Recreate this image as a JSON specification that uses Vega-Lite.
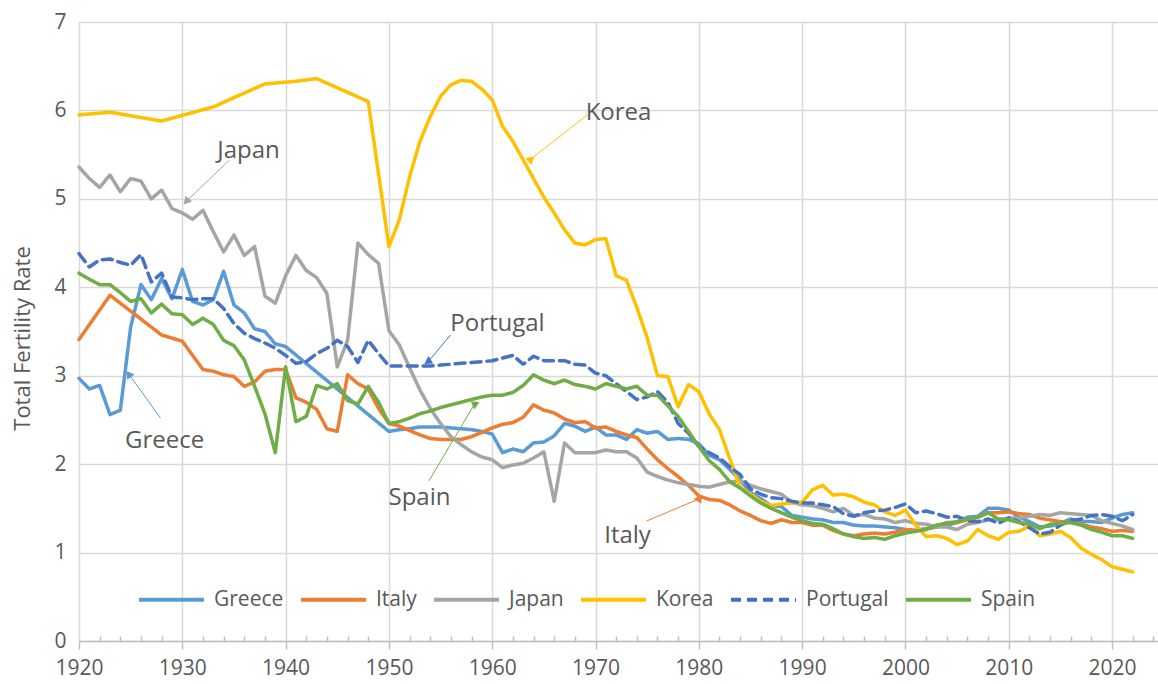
{
  "$schema": "https://vega.github.io/schema/vega-lite/v6.json",
  "width": 1079,
  "height": 619,
  "autosize": {"type": "none"},
  "padding": {"left": 79, "top": 22, "right": 0, "bottom": 43},
  "background": "white",
  "config": {"view": {"stroke": null}, "font": "Open Sans"},
  "resolve": {"axis": {"x": "independent", "y": "independent"}},
  "datasets": {
    "tfr": [
      {"year":1920,"Greece":2.97,"Italy":3.41,"Japan":5.36,"Korea":5.95,"Portugal":4.38,"Spain":4.16},
      {"year":1921,"Greece":2.85,"Japan":5.23,"Portugal":4.23,"Spain":4.09},
      {"year":1922,"Greece":2.89,"Japan":5.13,"Portugal":4.31,"Spain":4.03},
      {"year":1923,"Greece":2.56,"Italy":3.91,"Japan":5.27,"Korea":5.98,"Portugal":4.32,"Spain":4.03},
      {"year":1924,"Greece":2.61,"Japan":5.08,"Portugal":4.28,"Spain":3.94},
      {"year":1925,"Greece":3.55,"Japan":5.23,"Portugal":4.25,"Spain":3.84},
      {"year":1926,"Greece":4.03,"Japan":5.20,"Portugal":4.37,"Spain":3.87},
      {"year":1927,"Greece":3.86,"Japan":5.00,"Portugal":4.06,"Spain":3.71},
      {"year":1928,"Greece":4.10,"Italy":3.46,"Japan":5.10,"Korea":5.88,"Portugal":4.16,"Spain":3.81},
      {"year":1929,"Greece":3.87,"Japan":4.89,"Portugal":3.89,"Spain":3.70},
      {"year":1930,"Greece":4.20,"Italy":3.39,"Japan":4.84,"Portugal":3.88,"Spain":3.69},
      {"year":1931,"Greece":3.84,"Japan":4.77,"Portugal":3.86,"Spain":3.58},
      {"year":1932,"Greece":3.80,"Italy":3.07,"Japan":4.87,"Portugal":3.87,"Spain":3.65},
      {"year":1933,"Greece":3.86,"Italy":3.05,"Japan":4.63,"Korea":6.04,"Portugal":3.87,"Spain":3.58},
      {"year":1934,"Greece":4.18,"Italy":3.01,"Japan":4.40,"Portugal":3.76,"Spain":3.40},
      {"year":1935,"Greece":3.80,"Italy":2.99,"Japan":4.59,"Portugal":3.59,"Spain":3.34},
      {"year":1936,"Greece":3.71,"Italy":2.88,"Japan":4.36,"Portugal":3.48,"Spain":3.18},
      {"year":1937,"Greece":3.53,"Italy":2.93,"Japan":4.46,"Portugal":3.42,"Spain":2.88},
      {"year":1938,"Greece":3.50,"Italy":3.05,"Japan":3.90,"Korea":6.30,"Portugal":3.37,"Spain":2.57},
      {"year":1939,"Greece":3.36,"Italy":3.07,"Japan":3.82,"Portugal":3.31,"Spain":2.13},
      {"year":1940,"Greece":3.33,"Italy":3.07,"Japan":4.13,"Portugal":3.23,"Spain":3.10},
      {"year":1941,"Italy":2.75,"Japan":4.36,"Korea":6.33,"Portugal":3.14,"Spain":2.48},
      {"year":1942,"Italy":2.70,"Japan":4.19,"Portugal":3.16,"Spain":2.54},
      {"year":1943,"Italy":2.62,"Japan":4.11,"Korea":6.36,"Portugal":3.25,"Spain":2.89},
      {"year":1944,"Italy":2.40,"Japan":3.93,"Portugal":3.31,"Spain":2.85},
      {"year":1945,"Italy":2.37,"Japan":3.10,"Portugal":3.40,"Spain":2.91},
      {"year":1946,"Italy":3.01,"Japan":3.40,"Portugal":3.33,"Spain":2.72},
      {"year":1947,"Italy":2.91,"Japan":4.50,"Portugal":3.15,"Spain":2.68},
      {"year":1948,"Italy":2.85,"Japan":4.37,"Korea":6.10,"Portugal":3.40,"Spain":2.88},
      {"year":1949,"Italy":2.63,"Japan":4.27,"Portugal":3.25,"Spain":2.70},
      {"year":1950,"Greece":2.37,"Italy":2.46,"Japan":3.51,"Korea":4.46,"Portugal":3.11,"Spain":2.46},
      {"year":1951,"Greece":2.39,"Italy":2.43,"Japan":3.35,"Korea":4.76,"Portugal":3.11,"Spain":2.48},
      {"year":1952,"Greece":2.40,"Italy":2.38,"Japan":3.09,"Korea":5.25,"Portugal":3.11,"Spain":2.52},
      {"year":1953,"Greece":2.42,"Italy":2.33,"Japan":2.84,"Korea":5.65,"Portugal":3.11,"Spain":2.57},
      {"year":1954,"Greece":2.42,"Italy":2.29,"Japan":2.63,"Korea":5.93,"Portugal":3.11,"Spain":2.60},
      {"year":1955,"Greece":2.42,"Italy":2.28,"Japan":2.46,"Korea":6.16,"Portugal":3.12,"Spain":2.64},
      {"year":1956,"Greece":2.41,"Italy":2.28,"Japan":2.31,"Korea":6.29,"Portugal":3.13,"Spain":2.67},
      {"year":1957,"Greece":2.40,"Italy":2.28,"Japan":2.22,"Korea":6.34,"Portugal":3.14,"Spain":2.70},
      {"year":1958,"Greece":2.39,"Italy":2.31,"Japan":2.14,"Korea":6.33,"Portugal":3.15,"Spain":2.73},
      {"year":1959,"Greece":2.37,"Italy":2.36,"Japan":2.08,"Korea":6.24,"Portugal":3.16,"Spain":2.76},
      {"year":1960,"Greece":2.34,"Italy":2.41,"Japan":2.05,"Korea":6.12,"Portugal":3.17,"Spain":2.78},
      {"year":1961,"Greece":2.13,"Italy":2.45,"Japan":1.96,"Korea":5.82,"Portugal":3.20,"Spain":2.78},
      {"year":1962,"Greece":2.17,"Italy":2.47,"Japan":1.99,"Korea":5.65,"Portugal":3.23,"Spain":2.81},
      {"year":1963,"Greece":2.14,"Italy":2.53,"Japan":2.01,"Korea":5.44,"Portugal":3.13,"Spain":2.89},
      {"year":1964,"Greece":2.24,"Italy":2.67,"Japan":2.07,"Korea":5.23,"Portugal":3.22,"Spain":3.01},
      {"year":1965,"Greece":2.25,"Italy":2.61,"Japan":2.14,"Korea":5.02,"Portugal":3.17,"Spain":2.95},
      {"year":1966,"Greece":2.32,"Italy":2.58,"Japan":1.58,"Korea":4.84,"Portugal":3.17,"Spain":2.91},
      {"year":1967,"Greece":2.46,"Italy":2.51,"Japan":2.24,"Korea":4.65,"Portugal":3.17,"Spain":2.95},
      {"year":1968,"Greece":2.43,"Italy":2.47,"Japan":2.13,"Korea":4.50,"Portugal":3.13,"Spain":2.90},
      {"year":1969,"Greece":2.37,"Italy":2.48,"Japan":2.13,"Korea":4.48,"Portugal":3.12,"Spain":2.88},
      {"year":1970,"Greece":2.42,"Italy":2.41,"Japan":2.13,"Korea":4.54,"Portugal":3.03,"Spain":2.85},
      {"year":1971,"Greece":2.33,"Italy":2.42,"Japan":2.16,"Korea":4.55,"Portugal":3.00,"Spain":2.91},
      {"year":1972,"Greece":2.33,"Italy":2.37,"Japan":2.14,"Korea":4.13,"Portugal":2.91,"Spain":2.88},
      {"year":1973,"Greece":2.28,"Italy":2.33,"Japan":2.14,"Korea":4.08,"Portugal":2.82,"Spain":2.85},
      {"year":1974,"Greece":2.39,"Italy":2.30,"Japan":2.07,"Korea":3.77,"Portugal":2.73,"Spain":2.88},
      {"year":1975,"Greece":2.35,"Italy":2.17,"Japan":1.91,"Korea":3.43,"Portugal":2.76,"Spain":2.78},
      {"year":1976,"Greece":2.37,"Italy":2.05,"Japan":1.86,"Korea":3.00,"Portugal":2.82,"Spain":2.78},
      {"year":1977,"Greece":2.28,"Italy":1.95,"Japan":1.82,"Korea":2.99,"Portugal":2.70,"Spain":2.66},
      {"year":1978,"Greece":2.29,"Italy":1.86,"Japan":1.79,"Korea":2.65,"Portugal":2.46,"Spain":2.54},
      {"year":1979,"Greece":2.28,"Italy":1.76,"Japan":1.77,"Korea":2.90,"Portugal":2.35,"Spain":2.37},
      {"year":1980,"Greece":2.23,"Italy":1.64,"Japan":1.75,"Korea":2.82,"Portugal":2.20,"Spain":2.20},
      {"year":1981,"Greece":2.10,"Italy":1.60,"Japan":1.74,"Korea":2.57,"Portugal":2.13,"Spain":2.04},
      {"year":1982,"Greece":2.05,"Italy":1.59,"Japan":1.77,"Korea":2.39,"Portugal":2.07,"Spain":1.94},
      {"year":1983,"Greece":1.94,"Italy":1.54,"Japan":1.80,"Korea":2.06,"Portugal":1.97,"Spain":1.80},
      {"year":1984,"Greece":1.82,"Italy":1.47,"Japan":1.81,"Korea":1.74,"Portugal":1.88,"Spain":1.73},
      {"year":1985,"Greece":1.68,"Italy":1.42,"Japan":1.76,"Korea":1.66,"Portugal":1.72,"Spain":1.64},
      {"year":1986,"Greece":1.61,"Italy":1.36,"Japan":1.72,"Korea":1.58,"Portugal":1.66,"Spain":1.56},
      {"year":1987,"Greece":1.53,"Italy":1.33,"Japan":1.69,"Korea":1.53,"Portugal":1.62,"Spain":1.50},
      {"year":1988,"Greece":1.52,"Italy":1.37,"Japan":1.66,"Korea":1.55,"Portugal":1.61,"Spain":1.45},
      {"year":1989,"Greece":1.42,"Italy":1.34,"Japan":1.57,"Korea":1.56,"Portugal":1.58,"Spain":1.40},
      {"year":1990,"Greece":1.40,"Italy":1.34,"Japan":1.54,"Korea":1.57,"Portugal":1.56,"Spain":1.36},
      {"year":1991,"Greece":1.38,"Italy":1.31,"Japan":1.53,"Korea":1.71,"Portugal":1.56,"Spain":1.33},
      {"year":1992,"Greece":1.37,"Italy":1.31,"Japan":1.50,"Korea":1.76,"Portugal":1.54,"Spain":1.32},
      {"year":1993,"Greece":1.34,"Italy":1.25,"Japan":1.46,"Korea":1.65,"Portugal":1.52,"Spain":1.27},
      {"year":1994,"Greece":1.34,"Italy":1.21,"Japan":1.50,"Korea":1.66,"Portugal":1.44,"Spain":1.21},
      {"year":1995,"Greece":1.31,"Italy":1.19,"Japan":1.42,"Korea":1.63,"Portugal":1.41,"Spain":1.18},
      {"year":1996,"Greece":1.30,"Italy":1.21,"Japan":1.43,"Korea":1.57,"Portugal":1.45,"Spain":1.16},
      {"year":1997,"Greece":1.30,"Italy":1.22,"Japan":1.39,"Korea":1.54,"Portugal":1.47,"Spain":1.17},
      {"year":1998,"Greece":1.29,"Italy":1.21,"Japan":1.38,"Korea":1.46,"Portugal":1.48,"Spain":1.15},
      {"year":1999,"Greece":1.28,"Italy":1.23,"Japan":1.34,"Korea":1.42,"Portugal":1.51,"Spain":1.19},
      {"year":2000,"Greece":1.26,"Italy":1.26,"Japan":1.36,"Korea":1.48,"Portugal":1.55,"Spain":1.22},
      {"year":2001,"Greece":1.25,"Italy":1.25,"Japan":1.33,"Korea":1.31,"Portugal":1.45,"Spain":1.24},
      {"year":2002,"Greece":1.27,"Italy":1.27,"Japan":1.32,"Korea":1.18,"Portugal":1.47,"Spain":1.26},
      {"year":2003,"Greece":1.29,"Italy":1.29,"Japan":1.29,"Korea":1.19,"Portugal":1.44,"Spain":1.31},
      {"year":2004,"Greece":1.31,"Italy":1.34,"Japan":1.29,"Korea":1.16,"Portugal":1.40,"Spain":1.33},
      {"year":2005,"Greece":1.34,"Italy":1.34,"Japan":1.26,"Korea":1.09,"Portugal":1.41,"Spain":1.35},
      {"year":2006,"Greece":1.40,"Italy":1.37,"Japan":1.32,"Korea":1.13,"Portugal":1.36,"Spain":1.38},
      {"year":2007,"Greece":1.41,"Italy":1.40,"Japan":1.34,"Korea":1.26,"Portugal":1.35,"Spain":1.40},
      {"year":2008,"Greece":1.50,"Italy":1.45,"Japan":1.37,"Korea":1.19,"Portugal":1.38,"Spain":1.45},
      {"year":2009,"Greece":1.50,"Italy":1.45,"Japan":1.37,"Korea":1.15,"Portugal":1.33,"Spain":1.38},
      {"year":2010,"Greece":1.48,"Italy":1.46,"Japan":1.39,"Korea":1.23,"Portugal":1.39,"Spain":1.37},
      {"year":2011,"Greece":1.40,"Italy":1.44,"Japan":1.39,"Korea":1.24,"Portugal":1.35,"Spain":1.34},
      {"year":2012,"Greece":1.35,"Italy":1.43,"Japan":1.41,"Korea":1.30,"Portugal":1.28,"Spain":1.32},
      {"year":2013,"Greece":1.29,"Italy":1.39,"Japan":1.43,"Korea":1.19,"Portugal":1.21,"Spain":1.27},
      {"year":2014,"Greece":1.30,"Italy":1.37,"Japan":1.42,"Korea":1.21,"Portugal":1.23,"Spain":1.32},
      {"year":2015,"Greece":1.33,"Italy":1.35,"Japan":1.45,"Korea":1.24,"Portugal":1.31,"Spain":1.33},
      {"year":2016,"Greece":1.38,"Italy":1.34,"Japan":1.44,"Korea":1.17,"Portugal":1.36,"Spain":1.34},
      {"year":2017,"Greece":1.35,"Italy":1.32,"Japan":1.43,"Korea":1.05,"Portugal":1.38,"Spain":1.31},
      {"year":2018,"Greece":1.35,"Italy":1.29,"Japan":1.42,"Korea":0.98,"Portugal":1.42,"Spain":1.26},
      {"year":2019,"Greece":1.34,"Italy":1.27,"Japan":1.36,"Korea":0.92,"Portugal":1.43,"Spain":1.23},
      {"year":2020,"Greece":1.39,"Italy":1.24,"Japan":1.33,"Korea":0.84,"Portugal":1.41,"Spain":1.19},
      {"year":2021,"Greece":1.43,"Italy":1.25,"Japan":1.30,"Korea":0.81,"Portugal":1.36,"Spain":1.19},
      {"year":2022,"Greece":1.45,"Italy":1.24,"Japan":1.26,"Korea":0.78,"Portugal":1.43,"Spain":1.16}
    ],
    "notes": [
      {"c":"Japan","tx":1936.41,"ty":5.54,"x1":1934.57,"y1":5.44,"x2":1930.2,"y2":4.95,"hx":1930.46,"hy":4.98},
      {"c":"Korea","tx":1972.23,"ty":5.97,"x1":1969.23,"y1":5.95,"x2":1963.4,"y2":5.42,"hx":1963.7,"hy":5.44},
      {"c":"Portugal","tx":1960.51,"ty":3.58,"x1":1955.96,"y1":3.46,"x2":1953.6,"y2":3.13,"hx":1953.85,"hy":3.165},
      {"c":"Greece","tx":1928.28,"ty":2.26,"x1":1927.89,"y1":2.52,"x2":1924.7,"y2":3.04,"hx":1924.88,"hy":3.007},
      {"c":"Spain","tx":1952.96,"ty":1.62,"x1":1953.87,"y1":1.81,"x2":1958.45,"y2":2.71,"hx":1958.32,"hy":2.677},
      {"c":"Italy","tx":1973.1,"ty":1.19,"x1":1974.94,"y1":1.357,"x2":1980.4,"y2":1.625,"hx":1980.01,"hy":1.605}
    ]
  },
  "layer": [
    {
      "data": {"name": "tfr"},
      "transform": [
        {"fold": ["Greece", "Italy", "Japan", "Korea", "Portugal", "Spain"], "as": ["c", "v"]},
        {"filter": "isValid(datum.v)"}
      ],
      "mark": {"type": "line", "strokeWidth": 3.5, "strokeCap": "round", "strokeJoin": "round"},
      "encoding": {
        "x": {
          "field": "year", "type": "quantitative",
          "scale": {"domain": [1920, 2024.45], "nice": false, "zero": false},
          "axis": {
            "title": null,
            "orient": "bottom",
            "values": [1920, 1930, 1940, 1950, 1960, 1970, 1980, 1990, 2000, 2010, 2020],
            "format": "d",
            "grid": true,
            "gridColor": "#d9d9d9",
            "gridWidth": 1.5,
            "tickColor": "#bfbfbf",
            "tickWidth": 1.5,
            "tickSize": 8,
            "domainColor": "#bfbfbf",
            "domainWidth": 1.5,
            "labelFontSize": 21,
            "labelColor": "#595959",
            "labelPadding": 8,
            "labelFlush": false,
            "labelOverlap": false
          }
        },
        "y": {
          "field": "v", "type": "quantitative",
          "scale": {"domain": [0, 7], "nice": false},
          "axis": {
            "title": "Total Fertility Rate",
            "titleFontSize": 22,
            "titleColor": "#595959",
            "titleFontWeight": "normal",
            "titleX": -57,
            "titleY": 316,
            "titleAngle": 270,
            "titleAlign": "center",
            "titleBaseline": "middle",
            "values": [0, 1, 2, 3, 4, 5, 6, 7],
            "format": "d",
            "grid": true,
            "gridColor": "#d9d9d9",
            "gridWidth": 1.5,
            "ticks": false,
            "domain": false,
            "labelFontSize": 21,
            "labelColor": "#595959",
            "labelPadding": 13
          }
        },
        "color": {
          "field": "c", "type": "nominal",
          "scale": {"domain": ["Greece", "Italy", "Japan", "Korea", "Portugal", "Spain"], "range": ["#5B9BD5", "#ED7D31", "#A5A5A5", "#FFC000", "#4472C4", "#70AD47"]},
          "legend": {
            "title": null,
            "orient": "none",
            "legendX": 58,
            "legendY": 543,
            "direction": "horizontal",
            "columns": 6,
            "symbolType": "stroke",
            "symbolSize": 4225,
            "symbolStrokeWidth": 4,
            "labelFontSize": 21,
            "labelColor": "#595959",
            "labelOffset": 8,
            "columnPadding": 9
          }
        },
        "strokeDash": {
          "field": "c", "type": "nominal",
          "scale": {"domain": ["Greece", "Italy", "Japan", "Korea", "Portugal", "Spain"], "range": [[1, 0], [1, 0], [1, 0], [1, 0], [10, 6], [1, 0]]},
          "legend": {
            "title": null,
            "orient": "none",
            "legendX": 58,
            "legendY": 543,
            "direction": "horizontal",
            "columns": 6,
            "symbolType": "stroke",
            "symbolSize": 4225,
            "symbolStrokeWidth": 4,
            "labelFontSize": 21,
            "labelColor": "#595959",
            "labelOffset": 8,
            "columnPadding": 9
          }
        }
      }
    },
    {
      "data": {"name": "notes"},
      "mark": {"type": "rule", "strokeWidth": 1},
      "encoding": {
        "x": {"field": "x1", "type": "quantitative", "axis": null},
        "y": {"field": "y1", "type": "quantitative", "axis": null},
        "x2": {"field": "x2"},
        "y2": {"field": "y2"},
        "color": {"field": "c", "type": "nominal"}
      }
    },
    {
      "data": {"name": "notes"},
      "mark": {"type": "point", "shape": "triangle", "filled": true, "size": 80, "opacity": 1},
      "encoding": {
        "x": {"field": "hx", "type": "quantitative", "axis": null},
        "y": {"field": "hy", "type": "quantitative", "axis": null},
        "color": {"field": "c", "type": "nominal"},
        "angle": {
          "field": "c", "type": "nominal",
          "scale": {"domain": ["Greece", "Italy", "Japan", "Korea", "Portugal", "Spain"], "range": [324.4, 65.7, 226.3, 231.9, 219.6, 31.1]},
          "legend": null
        }
      }
    },
    {
      "data": {"name": "notes"},
      "mark": {"type": "text", "fontSize": 24, "color": "#595959", "align": "center", "baseline": "middle"},
      "encoding": {
        "x": {
          "field": "tx", "type": "quantitative",
          "axis": {
            "title": null,
            "orient": "bottom",
            "values": [1922,1924,1926,1928,1932,1934,1936,1938,1942,1944,1946,1948,1952,1954,1956,1958,1962,1964,1966,1968,1972,1974,1976,1978,1982,1984,1986,1988,1992,1994,1996,1998,2002,2004,2006,2008,2012,2014,2016,2018,2022,2024],
            "labels": false,
            "grid": false,
            "domain": false,
            "tickColor": "#bfbfbf",
            "tickWidth": 1.5,
            "tickSize": -5
          }
        },
        "y": {"field": "ty", "type": "quantitative", "axis": null},
        "text": {"field": "c"}
      }
    }
  ]
}
